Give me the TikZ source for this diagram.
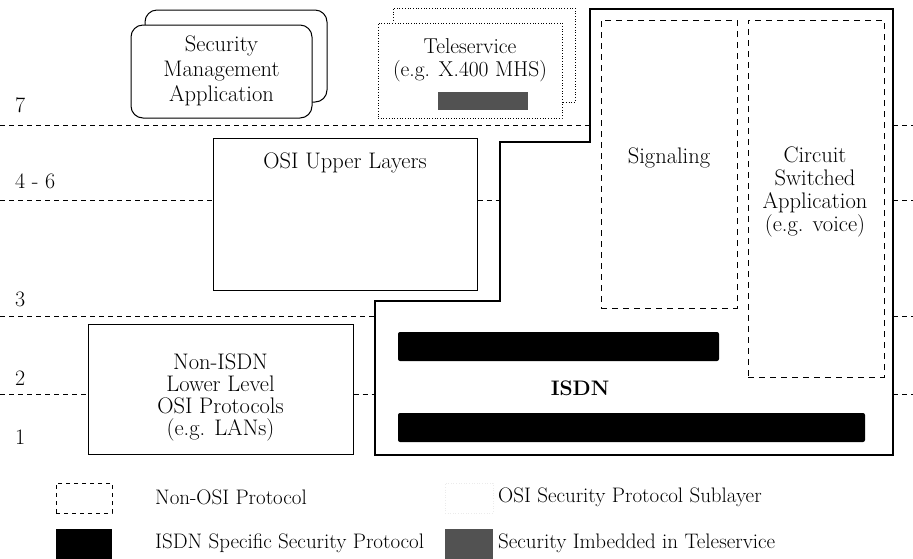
\documentclass[tikz,border=0pt]{standalone}
\tikzset{
  lbl/.style={font=\fontsize{22.5}{25}\selectfont, align=center, inner sep=0pt},
  solidbox/.style={draw, line width=1pt, fill=white, inner sep=0pt},
  nonosi/.style={draw, line width=0.9pt, dash pattern=on 6pt off 5pt},
  level/.style={line width=0.8pt, dash pattern=on 5pt off 4pt},
  teledot/.style={draw, line width=0.7pt, dotted, fill=white, inner sep=0pt},
  secbar/.style={fill=black, rounded corners=2pt, inner sep=0pt},
  telebar/.style={fill=black!68, inner sep=0pt},
  leveltxt/.style={font=\fontsize{22}{25}\selectfont, anchor=west, inner sep=0pt},
  legtxt/.style={font=\fontsize{21}{25}\selectfont, anchor=west, inner sep=0pt}
}
\begin{document}
\begin{tikzpicture}[x=1pt,y=-1pt]
\useasboundingbox (0,0) rectangle (913,558);

% ISDN region outline
\draw[line width=1.2pt] (375,455) -- (375,301) -- (500,301) -- (500,142)
  -- (590,142) -- (590,9) -- (893,9) -- (893,455) -- cycle;
\coordinate (isdnL) at (375,316);
\coordinate (isdnS) at (500,200);
\coordinate (isdnT) at (590,125);
\coordinate (isdnR) at (893,0);

% Security management application (stacked)
\node[solidbox, rounded corners=12pt, minimum width=182pt, minimum height=92pt] (smaback) at (236,56) {};
\node[solidbox, rounded corners=12pt, minimum width=181pt, minimum height=93pt] (sma) at (221.5,71.5) {};
\node[lbl] (smatext) at (221.5,70.5) {Security\\Management\\Application};

% Teleservice (stacked, dotted)
\node[teledot, minimum width=182pt, minimum height=94pt] (teleback) at (484,55) {};
\node[teledot, minimum width=184pt, minimum height=95pt] (tele) at (470,70.5) {};
\node[lbl, font=\fontsize{21.5}{23}\selectfont] (teletext) at (470,60) {Teleservice\\(e.g. X.400 MHS)};
\node[telebar, minimum width=90pt, minimum height=18pt] (telesec) at (483,101) {};

% OSI upper layers
\node[solidbox, minimum width=264pt, minimum height=152pt] (osi) at (345,214) {};
\node[lbl] (ositext) at (345,163) {OSI Upper Layers};

% Non-ISDN lower level protocols
\node[solidbox, minimum width=265pt, minimum height=130pt] (lan) at (220.5,389) {};
\node[lbl, font=\fontsize{22.5}{22}\selectfont] (lantext) at (220.5,397) {Non-ISDN\\Lower Level\\OSI Protocols\\(e.g. LANs)};

% Non-OSI protocols inside ISDN
\node[nonosi, minimum width=136pt, minimum height=288pt] (sig) at (669,164) {};
\node[lbl] (sigtext) at (669,158) {Signaling};
\node[nonosi, minimum width=136pt, minimum height=357pt] (csa) at (816,198.5) {};
\node[lbl, font=\fontsize{22.5}{23}\selectfont] (csatext) at (815,192) {Circuit\\Switched\\Application\\(e.g. voice)};

% ISDN specific security protocols
\node[secbar, minimum width=321pt, minimum height=29pt] (bar1) at (558.5,346.5) {};
\node[secbar, minimum width=467pt, minimum height=29pt] (bar2) at (631.5,427.5) {};
\node[lbl, font=\fontsize{21}{25}\selectfont\bfseries] (isdntext) at (580,388) {ISDN};

% Layer boundaries
\draw[level] (0,125) -- (isdnT);
\draw[level] (isdnR |- 0,125) -- (913,125);
\draw[level] (0,200) -- (osi.west |- 0,200);
\draw[level] (osi.east |- 0,200) -- (isdnS);
\draw[level] (isdnR |- 0,200) -- (913,200);
\draw[level] (0,316) -- (isdnL);
\draw[level] (isdnR |- 0,316) -- (913,316);
\draw[level] (0,394) -- (lan.west |- 0,394);
\draw[level] (lan.east |- 0,394) -- (isdnL |- 0,394);
\draw[level] (isdnR |- 0,394) -- (913,394);

% Layer numbers
\node[leveltxt] (l7) at (15,105) {7};
\node[leveltxt] (l46) at (15,181) {4 - 6};
\node[leveltxt] (l3) at (15,299) {3};
\node[leveltxt] (l2) at (15,378) {2};
\node[leveltxt] (l1) at (15,437) {1};

% Legend
\node[nonosi, line width=0.7pt, dash pattern=on 4pt off 4pt, minimum width=56pt, minimum height=30pt] (kdash) at (84,498) {};
\node[legtxt] (kdashtxt) at (155,497) {Non-OSI Protocol};
\node[draw=black!8, line width=0.6pt, dotted, minimum width=48pt, minimum height=30pt] (klight) at (469,498) {};
\node[legtxt] (klighttxt) at (498,497) {OSI Security Protocol Sublayer};
\node[fill=black, inner sep=0pt, minimum width=56pt, minimum height=32pt] (kblack) at (84,545) {};
\node[legtxt] (kblacktxt) at (155,543) {ISDN Specific Security Protocol};
\node[telebar, minimum width=48pt, minimum height=32pt] (kgray) at (469,545) {};
\node[legtxt] (kgraytxt) at (498,543) {Security Imbedded in Teleservice};
\end{tikzpicture}
\end{document}
